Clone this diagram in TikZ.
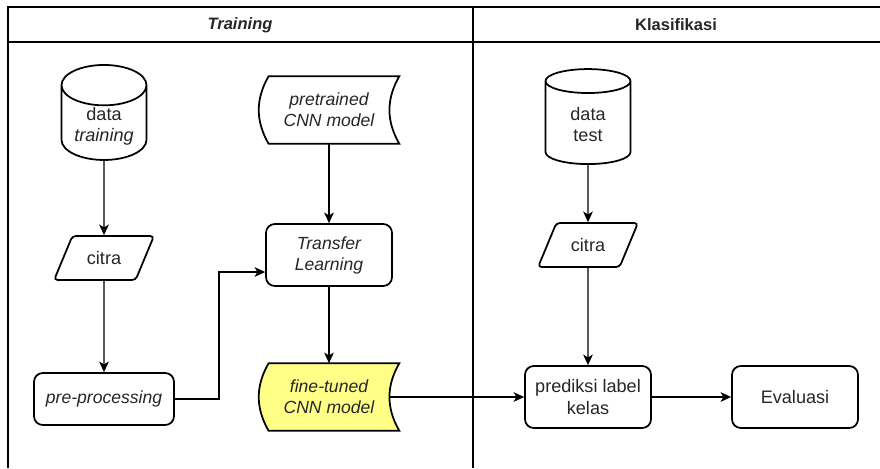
\documentclass[tikz,border=0pt]{standalone}
\usepackage{fontspec}
\setmainfont{Liberation Sans}
\usetikzlibrary{arrows.meta,calc,shapes.geometric,backgrounds,positioning}
\definecolor{ModelClr}{HTML}{FFFF88}
\definecolor{TextClr}{HTML}{262626}
\newcommand{\drawstore}[2][white]{%
  \draw[line width=1pt,fill=#1] (#2.north east) to[out=-120,in=120] (#2.south east)
    -- ($(#2.south west)+(10,0)$) to[out=120,in=-120] ($(#2.north west)+(10,0)$) -- cycle;}
\newcommand{\dbtext}[1]{\raisebox{-0.16cm}[0pt][0pt]{\begin{tabular}{@{}c@{}}#1\end{tabular}}}

\begin{document}
\begin{tikzpicture}[x=0.2mm,y=-0.2mm,
  font=\fontsize{10.3}{12.5}\selectfont,text=TextClr,
  box/.style={draw,line width=1pt,rounded corners=5pt,fill=white,align=center,
    minimum width=2.52cm,minimum height=1.24cm,inner sep=1pt},
  db/.style={cylinder,shape border rotate=90,aspect=0.68,draw,line width=1pt,
    minimum width=1.7cm,minimum height=1.9cm,inner sep=0pt},
  io/.style={trapezium,trapezium left angle=62,trapezium right angle=118,
    trapezium stretches=true,draw,line width=1pt,rounded corners=2pt,
    minimum width=2cm,minimum height=.88cm},
  store/.style={minimum width=2.8cm,minimum height=1.34cm,align=center,inner sep=0pt},
  head/.style={font=\fontsize{9.4}{11}\selectfont\bfseries},
  flow/.style={-{Stealth[length=6pt,width=5.5pt,inset=1.6pt]},line width=.6pt}]
\useasboundingbox (0,0) rectangle (880,468);

\draw[line width=.9pt] (880,7) -- (8,7) -- (8,468);
\draw[line width=.9pt] (8,42) -- (880,42);
\draw[line width=.9pt] (473,7) -- (473,468);
\node[head] (htrain) at (240,25) {\textit{Training}};
\node[head] (hklas) at (676,25) {Klasifikasi};

\node[db] (dtrain) at (104,123) {\dbtext{data\\\textit{training}}};
\node[io] (citra1) at (104,258) {citra};
\node[box,font=\itshape,minimum width=2.8cm,minimum height=1.04cm] (prep) at (104,399) {pre-processing};
\node[store,font=\itshape] (pretrained) at (329,110) {pretrained\\CNN model};
\node[box,font=\itshape] (transfer) at (329,255) {Transfer\\Learning};
\node[store,font=\itshape] (finetuned) at (329,397) {fine-tuned\\CNN model};

\node[db] (dtest) at (588,123) {\dbtext{data\\test}};
\node[io] (citra2) at (588,245) {citra};
\node[box] (prediksi) at (588,397) {prediksi label\\kelas};
\node[box] (eval) at (795,397) {Evaluasi};

\begin{pgfonlayer}{background}
\drawstore{pretrained}
\drawstore[ModelClr]{finetuned}
\end{pgfonlayer}

\coordinate (bend) at (219,272);
\draw[flow] (dtrain) -- (citra1);
\draw[flow] (citra1) -- (prep);
\draw[flow] (prep.east) -| (bend) -- (transfer.west |- bend);
\draw[flow] (pretrained) -- (transfer);
\draw[flow] (transfer) -- (finetuned);
\draw[flow] ($(finetuned.east)+(-10,0)$) -- (prediksi.west);
\draw[flow] (dtest) -- (citra2);
\draw[flow] (citra2) -- (prediksi);
\draw[flow] (prediksi) -- (eval);
\end{tikzpicture}
\end{document}
